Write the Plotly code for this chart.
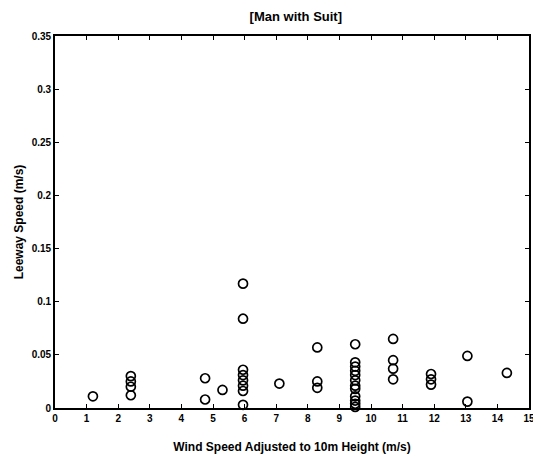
import plotly.graph_objects as go

wind_speed = [1.2,
              2.4, 2.4, 2.4, 2.4,
              4.75, 4.75,
              5.3,
              5.95, 5.95, 5.95, 5.95, 5.95, 5.95, 5.95, 5.95,
              7.1,
              8.3, 8.3, 8.3,
              9.5, 9.5, 9.5, 9.5, 9.5, 9.5, 9.5, 9.5, 9.5, 9.5, 9.5, 9.5,
              10.7, 10.7, 10.7, 10.7,
              11.9, 11.9, 11.9,
              13.05, 13.05,
              14.3]
leeway_speed = [0.011,
                0.030, 0.025, 0.020, 0.012,
                0.028, 0.008,
                0.017,
                0.117, 0.084, 0.036, 0.031, 0.026, 0.021, 0.016, 0.003,
                0.023,
                0.057, 0.025, 0.019,
                0.060, 0.043, 0.039, 0.035, 0.031, 0.026, 0.021, 0.018, 0.011, 0.007, 0.004, 0.001,
                0.065, 0.045, 0.037, 0.027,
                0.032, 0.027, 0.022,
                0.049, 0.006,
                0.033]

x_ticks = list(range(0, 16))
x_tick_labels = [str(v) for v in x_ticks]
y_ticks = [0, 0.05, 0.1, 0.15, 0.2, 0.25, 0.3, 0.35]
y_tick_labels = ["0", "0.05", "0.1", "0.15", "0.2", "0.25", "0.3", "0.35"]

font_family = "Liberation Sans, Arial, sans-serif"

fig = go.Figure()
fig.add_trace(go.Scatter(
    x=wind_speed, y=leeway_speed, mode="markers",
    marker=dict(symbol="circle-open", size=9, color="black", line=dict(width=1.7)),
    showlegend=False, cliponaxis=False,
))

axis_common = dict(
    showline=True, linecolor="black", linewidth=1.8, mirror="ticks",
    ticks="inside", ticklen=4, tickwidth=1.3, tickcolor="black",
    showgrid=False, zeroline=False,
    tickfont=dict(family=font_family, size=10, color="black", weight="bold"),
)

# page body adds an 8px offset, so the figure is sized 8px smaller than the window
fig.update_layout(
    width=533, height=450,
    margin=dict(l=47, r=6, t=28, b=49),
    paper_bgcolor="white", plot_bgcolor="white",
    title=dict(text="[Man with Suit]", x=0.54, xanchor="center", y=0.982, yanchor="middle",
               font=dict(family=font_family, size=13, color="black", weight="bold")),
    xaxis=dict(range=[0, 15], tickvals=x_ticks, ticktext=x_tick_labels,
               title=dict(text="Wind Speed Adjusted to 10m Height (m/s)", standoff=20,
                          font=dict(family=font_family, size=12, color="black", weight="bold")),
               **axis_common),
    yaxis=dict(range=[0, 0.35], tickvals=y_ticks, ticktext=y_tick_labels,
               title=dict(text="Leeway Speed (m/s)", standoff=5,
                          font=dict(family=font_family, size=12, color="black", weight="bold")),
               **axis_common),
)

fig.write_html("out.html")
